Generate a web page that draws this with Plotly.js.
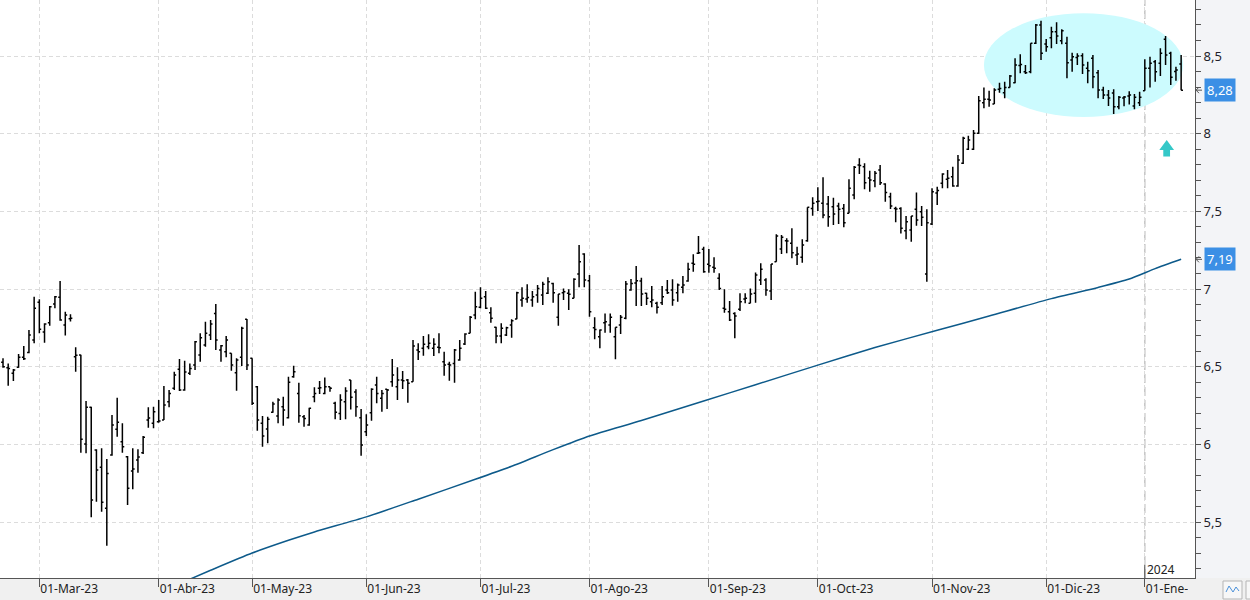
<!DOCTYPE html>
<html>
<head>
<meta charset="utf-8">
<script src="https://cdn.plot.ly/plotly-3.0.1.min.js"></script>
<style>html,body{margin:0;padding:0;background:#f3f4f7;}#chart{width:1250px;height:600px;}</style>
</head>
<body>
<div id="chart"></div>
<script>
// Daily OHLC, 20-Feb-2023 .. 11-Jan-2024 (one value per trading session)
var openP = [6.528,6.493,6.457,6.496,6.560,6.592,6.671,6.914,6.723,6.783,6.903,6.947,6.768,6.809,6.564,6.575,6.002,6.238,5.963,5.852,
5.588,5.931,6.097,6.017,5.920,5.828,5.899,5.946,6.157,6.135,6.146,6.157,6.274,6.361,6.483,6.350,6.457,6.511,6.575,6.639,
6.704,6.843,6.607,6.596,6.586,6.461,6.560,6.805,6.554,6.371,6.135,6.099,6.206,6.182,6.242,6.171,6.435,6.328,6.178,6.124,
6.307,6.361,6.328,6.371,6.264,6.199,6.274,6.414,6.337,6.171,6.081,6.203,6.382,6.296,6.354,6.403,6.371,6.414,6.414,6.403,
6.607,6.618,6.628,6.618,6.625,6.532,6.515,6.521,6.543,6.646,6.715,6.833,6.882,6.950,6.847,6.753,6.697,6.704,6.768,6.807,
6.929,6.935,6.929,6.961,6.961,6.972,7.036,6.818,6.976,6.972,6.940,7.097,7.225,7.053,6.751,6.693,6.783,6.768,6.693,6.768,
6.811,6.993,7.039,7.051,6.972,6.918,6.908,6.912,6.993,6.993,6.976,7.011,7.051,7.165,7.230,7.256,7.160,7.140,7.069,6.876,
6.854,6.843,6.869,6.936,6.908,6.972,7.058,7.058,6.987,7.176,7.257,7.311,7.294,7.219,7.204,7.311,7.519,7.562,7.552,7.547,
7.530,7.534,7.519,7.487,7.605,7.798,7.787,7.715,7.697,7.766,7.676,7.594,7.519,7.519,7.375,7.380,7.513,7.498,7.097,7.418,
7.618,7.680,7.706,7.723,7.663,7.809,7.899,7.899,8.002,8.199,8.221,8.191,8.286,8.264,8.298,8.328,8.439,8.399,8.399,8.582,
8.700,8.577,8.618,8.656,8.598,8.582,8.474,8.490,8.502,8.421,8.485,8.392,8.281,8.249,8.262,8.174,8.230,8.242,8.178,8.199,
8.277,8.421,8.463,8.453,8.608,8.517,8.400,8.448];
var highP = [6.554,6.521,6.485,6.581,6.633,6.736,6.950,6.934,6.779,6.890,6.955,7.051,6.854,6.837,6.625,6.577,6.279,6.242,5.968,5.974,
5.906,6.189,6.300,6.135,5.925,5.974,5.968,6.053,6.238,6.242,6.285,6.375,6.350,6.467,6.549,6.538,6.521,6.665,6.715,6.789,
6.800,6.903,6.639,6.697,6.586,6.554,6.757,6.807,6.554,6.375,6.182,6.177,6.274,6.296,6.306,6.435,6.506,6.397,6.189,6.236,
6.367,6.408,6.431,6.371,6.274,6.322,6.367,6.414,6.354,6.227,6.193,6.361,6.435,6.350,6.356,6.549,6.496,6.472,6.420,6.671,
6.650,6.697,6.708,6.683,6.715,6.596,6.532,6.614,6.671,6.715,6.826,6.983,7.011,6.987,6.882,6.757,6.779,6.757,6.805,6.983,
7.011,7.030,6.987,7.026,7.047,7.075,7.040,6.968,7.004,6.998,7.069,7.283,7.230,7.090,6.818,6.740,6.843,6.843,6.753,6.833,
7.051,7.064,7.148,7.073,6.976,7.019,6.918,7.019,7.058,7.062,7.036,7.084,7.169,7.223,7.341,7.272,7.257,7.204,7.101,6.998,
6.923,6.850,6.972,6.972,7.004,7.107,7.165,7.069,7.161,7.352,7.348,7.326,7.391,7.272,7.320,7.526,7.590,7.655,7.719,7.599,
7.588,7.555,7.547,7.706,7.792,7.841,7.809,7.762,7.760,7.798,7.680,7.620,7.530,7.526,7.470,7.470,7.622,7.534,7.513,7.648,
7.658,7.745,7.766,7.787,7.863,7.980,7.987,8.024,8.242,8.298,8.277,8.292,8.328,8.335,8.378,8.485,8.511,8.442,8.582,8.706,
8.727,8.609,8.689,8.717,8.672,8.624,8.521,8.517,8.517,8.463,8.506,8.410,8.302,8.281,8.286,8.242,8.242,8.273,8.255,8.270,
8.479,8.495,8.474,8.550,8.629,8.528,8.431,8.506];
var lowP = [6.493,6.377,6.408,6.493,6.543,6.586,6.650,6.715,6.654,6.764,6.876,6.796,6.700,6.790,6.467,5.946,5.942,5.530,5.631,5.566,
5.347,5.927,6.049,5.946,5.609,5.711,5.817,5.937,6.107,6.103,6.139,6.157,6.238,6.350,6.343,6.345,6.446,6.478,6.532,6.628,
6.671,6.607,6.532,6.560,6.474,6.345,6.504,6.478,6.253,6.088,5.985,6.007,6.203,6.135,6.120,6.167,6.429,6.139,6.113,6.120,
6.271,6.324,6.322,6.339,6.161,6.157,6.161,6.225,6.178,5.927,6.053,6.152,6.264,6.210,6.227,6.371,6.285,6.356,6.268,6.403,
6.543,6.571,6.612,6.569,6.586,6.442,6.410,6.397,6.538,6.639,6.715,6.805,6.876,6.871,6.783,6.650,6.650,6.697,6.686,6.805,
6.886,6.912,6.886,6.912,6.897,6.968,6.912,6.764,6.929,6.865,6.940,7.011,7.011,6.822,6.676,6.618,6.719,6.719,6.547,6.710,
6.805,6.989,6.890,6.890,6.897,6.882,6.843,6.897,6.968,6.892,6.918,6.972,7.047,7.111,7.225,7.105,7.105,7.105,6.993,6.847,
6.794,6.683,6.858,6.908,6.908,6.912,7.026,6.957,6.929,7.176,7.225,7.230,7.198,7.154,7.169,7.304,7.472,7.502,7.455,7.401,
7.412,7.418,7.397,7.487,7.577,7.740,7.642,7.626,7.655,7.669,7.562,7.515,7.429,7.358,7.320,7.304,7.407,7.405,7.047,7.412,
7.541,7.648,7.648,7.658,7.658,7.805,7.895,7.895,7.998,8.163,8.174,8.191,8.264,8.228,8.298,8.324,8.389,8.384,8.389,8.577,
8.474,8.528,8.550,8.577,8.575,8.356,8.399,8.442,8.384,8.324,8.292,8.228,8.223,8.178,8.127,8.157,8.176,8.188,8.157,8.178,
8.277,8.298,8.335,8.371,8.442,8.313,8.341,8.279];
var closeP = [6.500,6.489,6.478,6.560,6.551,6.704,6.876,6.741,6.775,6.886,6.950,6.800,6.833,6.812,6.573,6.032,6.238,5.642,5.835,5.627,
5.813,6.124,6.142,5.985,5.717,5.841,5.918,6.045,6.169,6.210,6.150,6.253,6.328,6.446,6.350,6.466,6.489,6.661,6.686,6.715,
6.775,6.671,6.635,6.671,6.511,6.543,6.747,6.511,6.264,6.157,6.054,6.161,6.259,6.285,6.221,6.399,6.467,6.184,6.167,6.232,
6.328,6.365,6.371,6.361,6.206,6.285,6.343,6.303,6.242,5.996,6.124,6.354,6.328,6.328,6.350,6.446,6.414,6.410,6.393,6.633,
6.596,6.644,6.650,6.644,6.622,6.511,6.511,6.607,6.618,6.710,6.818,6.886,6.940,6.876,6.811,6.697,6.747,6.751,6.796,6.976,
6.940,6.945,6.950,7.004,7.030,7.047,6.976,6.968,6.983,6.966,7.062,7.176,7.058,6.854,6.740,6.736,6.789,6.818,6.753,6.818,
7.032,7.036,7.053,6.968,6.940,6.929,6.882,6.950,6.976,6.929,7.026,7.026,7.127,7.160,7.234,7.111,7.150,7.133,7.004,6.869,
6.800,6.826,6.918,6.940,6.968,7.090,7.127,6.993,7.161,7.341,7.333,7.309,7.234,7.225,7.283,7.526,7.552,7.565,7.476,7.465,
7.483,7.513,7.427,7.648,7.783,7.795,7.684,7.702,7.745,7.684,7.622,7.534,7.515,7.391,7.433,7.470,7.444,7.462,7.427,7.626,
7.634,7.740,7.713,7.663,7.830,7.970,7.959,8.002,8.212,8.221,8.217,8.281,8.291,8.298,8.371,8.442,8.445,8.392,8.582,8.700,
8.517,8.560,8.656,8.629,8.663,8.457,8.495,8.500,8.442,8.405,8.367,8.281,8.249,8.230,8.174,8.234,8.236,8.249,8.234,8.234,
8.421,8.453,8.399,8.517,8.506,8.363,8.410,8.280];

// Moving average (blue line) read at selected sessions
var maIdx  = [34, 40, 48, 55, 60, 70, 80, 91, 98, 106, 113, 123, 135, 145, 157, 168, 180, 190, 202, 211, 217, 222, 227];
var maVals = [5.103,5.189,5.300,5.382,5.436,5.533,5.647,5.775,5.859,5.966,6.054,6.153,6.279,6.384,6.510,6.623,6.734,6.826,6.938,7.010,7.064,7.131,7.191];

// Month start sessions and their labels
var monthIdx = [7, 30, 48, 70, 92, 113, 136, 157, 179, 201, 220];
var monthLabels = ["01-Mar-23","01-Abr-23","01-May-23","01-Jun-23","01-Jul-23","01-Ago-23","01-Sep-23","01-Oct-23","01-Nov-23","01-Dic-23","01-Ene-24"];
var yearIdx = 220, yearLabel = "2024";

// Price axis ticks
var yTickVals = [5.5, 6, 6.5, 7, 7.5, 8, 8.5];
var yTickText = ["5,5", "6", "6,5", "7", "7,5", "8", "8,5"];

var xIdx = openP.map(function(_, i){ return i; });
var fmt = function(v){ return v.toFixed(2).replace('.', ','); };
var lastClose = closeP[closeP.length - 1];
var lastMa = maVals[maVals.length - 1];

var PH = 578; // plot height in px
var YPX = 155.33; // px per price unit
var py = function(px){ return (PH - px) / PH; }; // px from top -> paper y
var pxX = function(px){ return px / 1195; };

// small "←" pointer drawn in the axis margin next to a value label
function pointer(v){
  var h = 3 / YPX;
  return {type: 'path', xref: 'paper', yref: 'y', layer: 'above',
    path: 'M ' + pxX(1202) + ',' + v + ' L ' + pxX(1196) + ',' + v +
          ' M ' + pxX(1199) + ',' + (v + h) + ' L ' + pxX(1196) + ',' + v + ' L ' + pxX(1199) + ',' + (v - h),
    line: {color: '#555', width: 1}};
}

var traces = [
  {
    type: 'ohlc', x: xIdx, open: openP, high: highP, low: lowP, close: closeP,
    increasing: {line: {color: '#000000', width: 1.5}},
    decreasing: {line: {color: '#000000', width: 1.5}},
    tickwidth: 0.36, hoverinfo: 'skip'
  },
  {
    type: 'scatter', mode: 'lines', x: maIdx, y: maVals,
    line: {color: '#0d5a8a', width: 1.5, shape: 'spline', smoothing: 0.6}, hoverinfo: 'skip'
  }
];

var layout = {
  width: 1250, height: 600,
  margin: {l: 0, r: 55, t: 0, b: 22, pad: 0},
  paper_bgcolor: '#f3f4f7', plot_bgcolor: '#ffffff',
  separators: ',.',
  showlegend: false,
  font: {family: 'Noto Sans, sans-serif', color: '#222'},
  xaxis: {
    range: [-0.58, 229.67], type: 'linear',
    tickmode: 'array', tickvals: monthIdx, ticktext: monthLabels,
    ticks: 'outside', ticklen: 8, tickcolor: '#555', tickwidth: 1,
    ticklabelposition: 'outside right',
    tickfont: {family: 'Noto Sans, sans-serif', size: 12, color: '#222'},
    showline: true, linecolor: '#555', linewidth: 1,
    showgrid: true, gridcolor: '#dcdcdc', griddash: '4px,3px', gridwidth: 1,
    zeroline: false, rangeslider: {visible: false}, fixedrange: true
  },
  yaxis: {
    side: 'right', range: [5.1395, 8.8605], type: 'linear',
    tickmode: 'array', tickvals: yTickVals, ticktext: yTickText,
    ticks: 'outside', ticklen: 5, tickcolor: '#555', tickwidth: 1,
    tickfont: {family: 'Noto Sans, sans-serif', size: 13, color: '#1e1e2a'},
    showline: true, linecolor: '#555', linewidth: 1,
    showgrid: true, gridcolor: '#dcdcdc', griddash: '4px,3px', gridwidth: 1,
    minor: {tickmode: 'linear', tick0: 0, dtick: 0.1, ticks: 'outside', ticklen: 5, tickcolor: '#555', tickwidth: 1, showgrid: false},
    zeroline: false, fixedrange: true
  },
  shapes: [
    // bottom axis strip
    {type: 'rect', xref: 'paper', yref: 'paper', x0: 0, x1: 1.05, y0: py(600), y1: 0,
     fillcolor: '#f0f0f0', line: {width: 0}, layer: 'below'},
    // highlight ellipse
    {type: 'circle', xref: 'x', yref: 'y', x0: 189.0, x1: 227.4, y0: 8.108, y1: 8.776,
     fillcolor: '#ccfbfe', line: {width: 0}, layer: 'between'},
    // year separator
    {type: 'line', xref: 'x', yref: 'paper', x0: yearIdx, x1: yearIdx, y0: 0, y1: 1,
     line: {color: '#c4c4c4', width: 1.5, dash: '9px,4px'}, layer: 'between'},
    {type: 'line', xref: 'x', yref: 'paper', x0: yearIdx, x1: yearIdx, y0: 0, y1: py(565),
     line: {color: '#444', width: 1}, layer: 'above'},
    // cyan arrow
    {type: 'path', xref: 'x', yref: 'y',
     path: 'M 222.79,7.8948 L 224.22,7.9592 L 225.63,7.8948 L 224.86,7.8948 L 224.86,7.853 L 223.56,7.853 L 223.56,7.8948 Z',
     fillcolor: '#35c8c8', line: {width: 0}, layer: 'above'},
    // value pointers
    pointer(lastClose),
    pointer(lastMa),
    // corner cover (clips last date label)
    {type: 'rect', xref: 'paper', yref: 'paper', x0: pxX(1188), x1: pxX(1252), y0: py(602), y1: py(580),
     fillcolor: '#f0f0f0', line: {width: 0}, layer: 'above'},
    // corner button
    {type: 'rect', xref: 'paper', yref: 'paper', x0: pxX(1223), x1: pxX(1242), y0: py(599), y1: py(581),
     fillcolor: '#f7f7f7', line: {color: '#b5b5b5', width: 1}, layer: 'above'},
    {type: 'path', xref: 'paper', yref: 'paper',
     path: 'M ' + pxX(1226) + ',' + py(592) + ' L ' + pxX(1229) + ',' + py(586) + ' L ' + pxX(1233) + ',' + py(592) + ' L ' + pxX(1236) + ',' + py(587) + ' L ' + pxX(1239) + ',' + py(591),
     line: {color: '#4a90d9', width: 1}, layer: 'above'},
    {type: 'rect', xref: 'paper', yref: 'paper', x0: pxX(1246), x1: pxX(1256), y0: py(599), y1: py(581),
     fillcolor: '#f7f7f7', line: {color: '#b5b5b5', width: 1}, layer: 'above'}
  ],
  annotations: [
    {xref: 'paper', yref: 'y', x: 1, y: lastClose, xanchor: 'left', yanchor: 'middle', xshift: 9,
     text: fmt(lastClose), showarrow: false, bgcolor: '#3b8fe5', borderpad: 2,
     font: {family: 'Noto Sans, sans-serif', size: 13, color: '#ffffff'}},
    {xref: 'paper', yref: 'y', x: 1, y: lastMa, xanchor: 'left', yanchor: 'middle', xshift: 9,
     text: fmt(lastMa), showarrow: false, bgcolor: '#3b8fe5', borderpad: 2,
     font: {family: 'Noto Sans, sans-serif', size: 13, color: '#ffffff'}},
    {xref: 'x', yref: 'paper', x: yearIdx, y: 0, xanchor: 'left', yanchor: 'bottom', xshift: 0, yshift: -2,
     text: yearLabel, showarrow: false, font: {family: 'Noto Sans, sans-serif', size: 12, color: '#222'}}
  ]
};

Plotly.newPlot('chart', traces, layout, {displayModeBar: false, staticPlot: true});
</script>
</body>
</html>
